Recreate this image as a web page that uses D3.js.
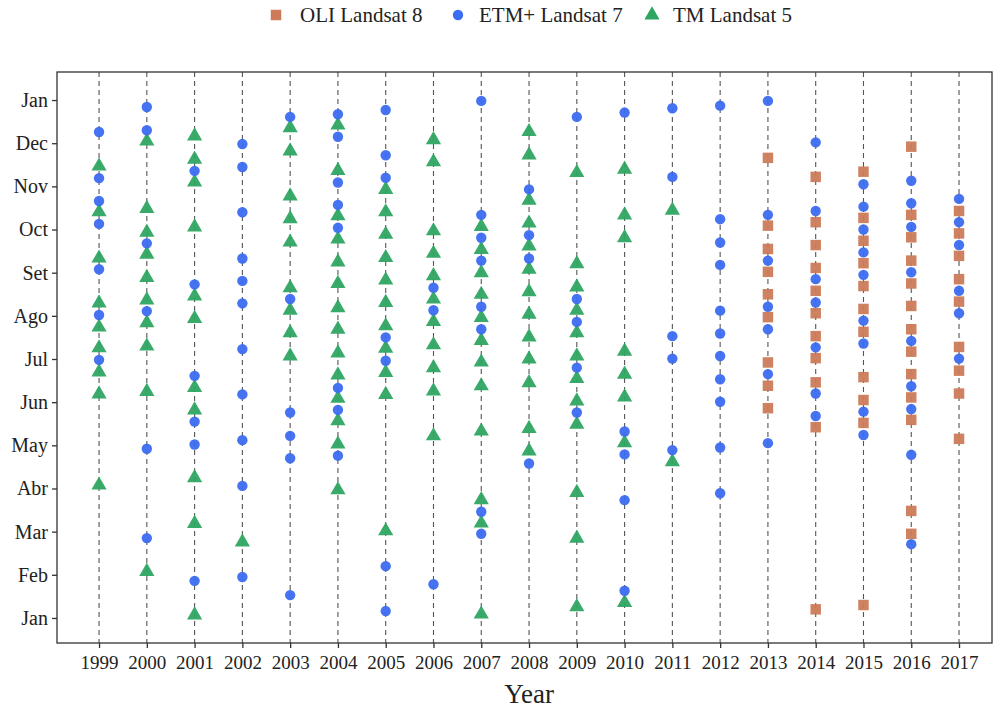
<!DOCTYPE html>
<html>
<head>
<meta charset="utf-8">
<script src="https://cdn.jsdelivr.net/npm/d3@7/dist/d3.min.js"></script>
<style>
  body { margin: 0; background: #fff; }
  svg text { font-family: "Liberation Serif", "Times New Roman", serif; fill: #222; }
</style>
</head>
<body>
<svg id="chart" width="1002" height="710"></svg>
<script>
// Acquisition dates per sensor, as decimal month (1 = 1 Jan, 13 = 1 Jan of next year)
const years = [1999,2000,2001,2002,2003,2004,2005,2006,2007,2008,2009,2010,2011,2012,2013,2014,2015,2016,2017];
const monthLabels = ["Jan","Feb","Mar","Abr","May","Jun","Jul","Ago","Set","Oct","Nov","Dec","Jan"];

const oli8 = {
  2013: [11.66,10.09,9.55,9.02,8.50,7.97,6.92,6.38,5.86],
  2014: [11.22,10.17,9.64,9.11,8.58,8.06,7.53,7.02,6.46,5.42,1.20],
  2015: [11.34,10.27,9.74,9.22,8.69,8.16,7.63,6.58,6.05,5.52,1.30],
  2016: [11.92,10.34,9.82,9.28,8.75,8.23,7.69,7.17,6.65,6.11,5.59,3.48,2.95],
  2017: [10.43,9.91,9.39,8.85,8.33,7.28,6.73,6.20,5.15]
};

const etm7 = {
  1999: [12.26,11.19,10.66,10.13,9.08,8.02,6.98],
  2000: [12.84,12.30,9.68,8.11,4.92,2.85],
  2001: [11.36,8.73,6.61,5.55,5.02,1.86],
  2002: [11.98,11.45,10.40,9.33,8.81,8.29,7.23,6.18,5.12,4.06,1.95],
  2003: [12.61,8.39,5.76,5.22,4.70,1.53],
  2004: [12.67,12.15,11.09,10.57,10.04,6.33,5.82,4.76],
  2005: [12.77,11.72,11.20,7.50,6.96,2.20,1.16],
  2006: [8.65,8.13,1.78],
  2007: [12.98,10.34,9.81,9.28,8.21,7.69,3.46,2.95],
  2008: [10.93,9.87,9.33,4.58],
  2009: [12.61,8.39,7.86,6.80,5.76],
  2010: [12.71,5.32,4.79,3.73,1.63],
  2011: [12.81,11.22,7.53,7.01,4.89],
  2012: [12.87,10.24,9.70,9.18,8.12,7.59,7.07,6.53,6.01,4.95,3.89],
  2013: [12.98,10.34,9.28,8.21,7.69,6.65,5.05],
  2014: [12.02,10.43,8.85,8.31,7.27,6.20,5.68],
  2015: [11.05,10.53,10.00,9.47,8.95,7.89,7.36,5.78,5.24],
  2016: [11.13,10.61,10.06,9.01,7.42,6.37,5.84,4.78,2.71],
  2017: [10.71,10.17,9.64,8.58,8.06,7.01]
};

const tm5 = {
  1999: [11.49,10.43,9.36,8.32,7.76,7.28,6.72,6.21,4.10],
  2000: [12.07,10.51,9.96,9.45,8.91,8.39,7.86,7.32,6.27,2.10],
  2001: [12.19,11.65,11.12,10.08,8.48,7.96,6.36,5.84,4.27,3.21,1.09],
  2002: [2.78],
  2003: [12.38,11.84,10.80,10.27,9.73,8.67,8.15,7.63,7.09],
  2004: [12.44,11.39,10.34,9.80,9.27,8.77,8.21,7.71,7.16,6.65,6.11,5.59,5.05,3.99],
  2005: [10.95,10.43,9.91,9.37,8.85,8.33,7.79,7.27,6.71,6.20,3.04],
  2006: [12.10,11.59,9.99,9.47,8.95,8.41,7.89,7.35,6.82,6.28,5.24],
  2007: [10.09,9.56,9.02,8.52,7.98,7.45,6.95,6.40,5.35,3.76,3.22,1.11],
  2008: [12.29,11.75,10.70,10.17,9.64,9.10,8.58,8.06,7.53,7.02,6.47,5.41,4.89],
  2009: [11.34,9.23,8.69,8.15,7.63,7.09,6.57,6.05,5.51,3.93,2.87,1.28],
  2010: [11.42,10.36,9.83,7.20,6.67,6.14,5.08,1.38],
  2011: [10.47,4.64]
};

const seriesNames = ["OLI Landsat 8", "ETM+ Landsat 7", "TM Landsat 5"];
const seriesColors = ["#CC7B58", "#3C6CF0", "#2EA561"];
const seriesShapes = [d3.symbolSquare, d3.symbolCircle, d3.symbolTriangle];
const seriesSizes = [110, 85, 100];

const svg = d3.select("#chart");
const margin = { left: 57, top: 72, right: 10, bottom: 67 };
const W = 1002 - margin.left - margin.right;
const H = 710 - margin.top - margin.bottom;
const g = svg.append("g").attr("transform", `translate(${margin.left},${margin.top})`);

const x = d3.scaleLinear().domain([1998.12, 2017.69]).range([0, W]);
const y = d3.scaleLinear().domain([0.42, 13.65]).range([H, 0]);

// vertical dashed guides at each year
g.append("g").selectAll("line").data(years).join("line")
  .attr("x1", d => x(d)).attr("x2", d => x(d))
  .attr("y1", 0).attr("y2", H)
  .attr("stroke", "#555").attr("stroke-width", 1.1)
  .attr("stroke-dasharray", "5,4");

// points
const toPoints = (obj, s) => Object.entries(obj).flatMap(([yr, vals]) => vals.map(v => ({ yr: +yr, v, s })));
const layers = [toPoints(tm5, 2), toPoints(etm7, 1), toPoints(oli8, 0)];
layers.forEach(pts => {
  g.append("g").selectAll("path").data(pts).join("path")
    .attr("d", d => d3.symbol().type(seriesShapes[d.s]).size(seriesSizes[d.s])())
    .attr("transform", d => `translate(${x(d.yr)},${y(d.v) + (d.s === 2 ? 1 : 0)})`)
    .attr("fill", d => seriesColors[d.s])
    .attr("fill-opacity", 0.95);
});

// panel border
g.append("rect").attr("x", 0).attr("y", 0).attr("width", W).attr("height", H)
  .attr("fill", "none").attr("stroke", "#333").attr("stroke-width", 1.3);

// axes
const xAxis = d3.axisBottom(x).tickValues(years).tickFormat(d3.format("d")).tickSize(5).tickPadding(4);
const yAxis = d3.axisLeft(y).tickValues(d3.range(1, 14)).tickFormat(d => monthLabels[d - 1]).tickSize(5).tickPadding(4);

const gx = g.append("g").attr("transform", `translate(0,${H})`).call(xAxis);
const gy = g.append("g").call(yAxis);
[gx, gy].forEach(a => {
  a.select(".domain").remove();
  a.selectAll(".tick line").attr("stroke", "#333").attr("stroke-width", 1.3);
  a.selectAll(".tick text").attr("fill", "#222")
    .style("font-family", "'Liberation Serif', serif");
});
gx.selectAll(".tick text").attr("font-size", 19).attr("dy", "0.9em");
gy.selectAll(".tick text").attr("font-size", 20);

// axis title
svg.append("text").attr("x", margin.left + x(2008)).attr("y", 703)
  .attr("text-anchor", "middle").attr("font-size", 27).text("Year");

// legend
const legendItems = [
  { sx: 276, tx: 300 },
  { sx: 458, tx: 479 },
  { sx: 652, tx: 673 }
];
const lg = svg.append("g");
legendItems.forEach((it, i) => {
  lg.append("path")
    .attr("d", d3.symbol().type(seriesShapes[i]).size(seriesSizes[i])())
    .attr("transform", `translate(${it.sx},15)`)
    .attr("fill", seriesColors[i]);
  lg.append("text").attr("x", it.tx).attr("y", 22)
    .attr("font-size", 21).text(seriesNames[i]);
});
</script>
</body>
</html>
